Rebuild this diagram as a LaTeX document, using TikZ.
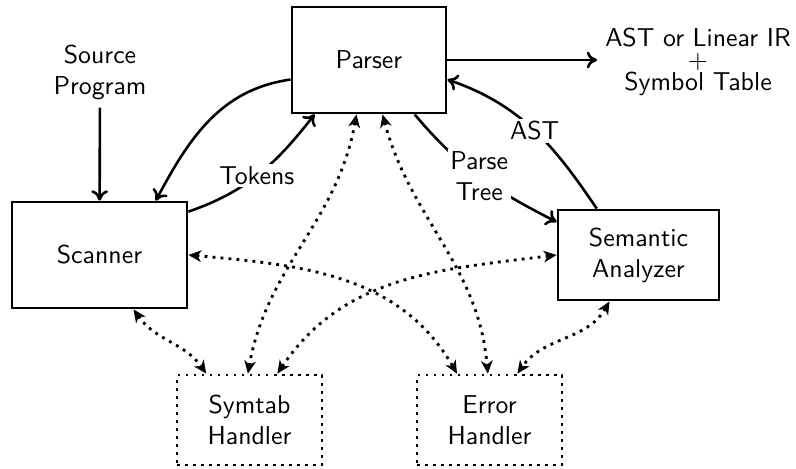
\documentclass[tikz,border=0pt]{standalone}
\usetikzlibrary{arrows.meta}
\begin{document}
\begin{tikzpicture}[x=0.387pt,y=-0.387pt,
  font=\sffamily,
  box/.style={draw,line width=1.1pt,align=center,inner sep=0pt},
  dbox/.style={draw,line width=1.1pt,dash pattern=on 1.1pt off 2pt,align=center,inner sep=0pt},
  solidarrow/.style={line width=1pt,-{To[length=4pt,width=6.5pt]}},
  dotarrow/.style={line width=1.1pt,dash pattern=on 1.1pt off 2pt,{Stealth[length=5pt,width=4.5pt,inset=1.5pt]}-{Stealth[length=5pt,width=4.5pt,inset=1.5pt]}},
  lbl/.style={fill=white,inner sep=1pt,align=center}]
\useasboundingbox (0,0) rectangle (796,469);
\node[box,minimum width=59.6pt,minimum height=41pt] (parser) at (369,60) {Parser};
\node[box,minimum width=67.7pt,minimum height=41pt] (scanner) at (99.5,255) {Scanner};
\node[box,minimum width=62.3pt,minimum height=34.8pt] (sem) at (638.5,255) {Semantic\\Analyzer};
\node[dbox,minimum width=56.1pt,minimum height=34.8pt] (sym) at (249.5,420) {Symtab\\Handler};
\node[dbox,minimum width=56.1pt,minimum height=34.8pt] (err) at (489.5,420) {Error\\Handler};
\node[align=center,inner sep=3pt] (src) at (100,72) {Source\\Program};
\node[align=center,inner sep=3pt] (out) at (698,62) {AST or Linear IR\\[-3.5pt]$+$\\[-3.5pt]Symbol Table};
\draw[solidarrow] (src) -- (scanner);
\draw[solidarrow] (parser) -- (parser -| out.west);
\draw[solidarrow] (parser.194) to[out=188,in=62] (scanner.44);
\draw[solidarrow] (scanner.26) to[out=19,in=232] node[lbl,pos=0.48] (tok) {Tokens} (parser.225);
\draw[solidarrow] (parser.310) to[out=-50,in=153] node[lbl,pos=0.5] (pt) {Parse\\Tree} (sem.158);
\draw[solidarrow] (sem.132) to[out=124,in=-19] node[lbl,pos=0.49] (ast) {AST} (parser.346);
\draw[dotarrow] (scanner.302) to[out=-55,in=125] (sym.133);
\draw[dotarrow] (parser.257) to[out=-100,in=80] (sym.92);
\draw[dotarrow] (parser.284) to[out=-75,in=95] (err.92);
\draw[dotarrow] (scanner.east) to[out=-5,in=120] (err.125);
\draw[dotarrow] (sem.west) to[out=187,in=56] (sym.59);
\draw[dotarrow] (sem.238) to[out=-120,in=55] (err.59);
\end{tikzpicture}
\end{document}
